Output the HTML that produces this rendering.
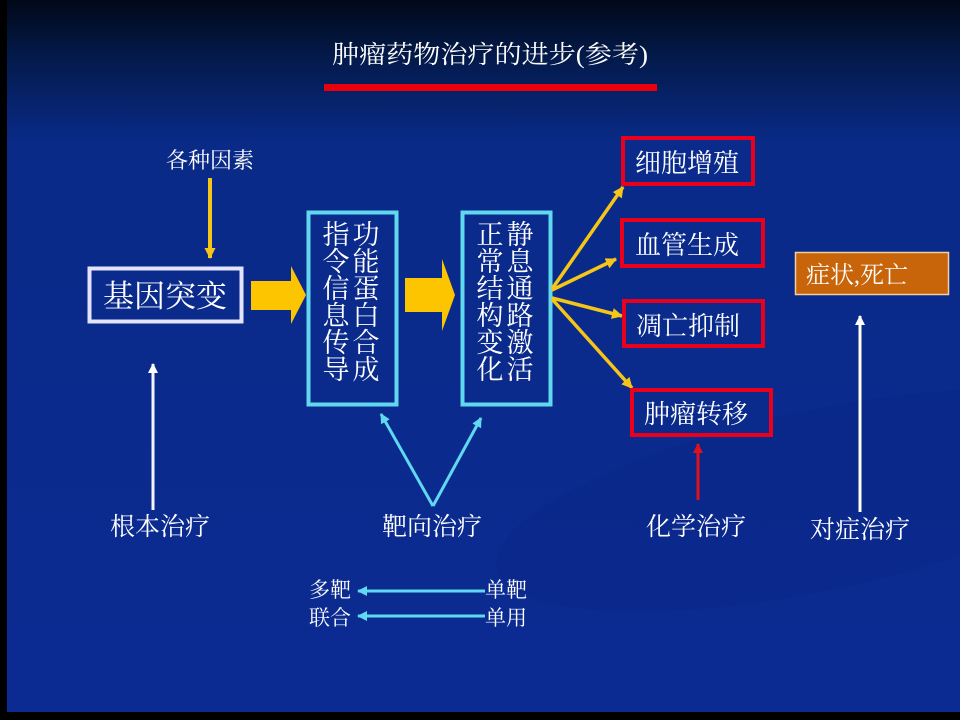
<!DOCTYPE html>
<html><head><meta charset="utf-8"><style>
html,body{margin:0;padding:0;background:#000;}
svg{display:block;}
text{font-family:"Liberation Serif","Noto Serif CJK SC",serif;fill:#fff;}
</style></head><body>
<svg width="960" height="720" viewBox="0 0 960 720" xmlns="http://www.w3.org/2000/svg">
<defs>
<linearGradient id="bg" x1="0" y1="0" x2="0" y2="1">
<stop offset="0" stop-color="#010818"/>
<stop offset="0.08" stop-color="#031a4a"/>
<stop offset="0.2" stop-color="#0a2a88"/>
<stop offset="1" stop-color="#0b2b93"/>
</linearGradient>
<marker id="ay" markerWidth="11" markerHeight="11" refX="10" refY="5.5" orient="auto" markerUnits="userSpaceOnUse"><path d="M0,0 L11,5.5 L0,11 Z" fill="#f5c518"/></marker>
<marker id="aw" markerWidth="10" markerHeight="10" refX="9" refY="5" orient="auto" markerUnits="userSpaceOnUse"><path d="M0,0 L10,5 L0,10 Z" fill="#fff"/></marker>
<marker id="ar" markerWidth="10" markerHeight="10" refX="9" refY="5" orient="auto" markerUnits="userSpaceOnUse"><path d="M0,0 L10,5 L0,10 Z" fill="#e0101c"/></marker>
<marker id="ac" markerWidth="10" markerHeight="10" refX="9" refY="5" orient="auto" markerUnits="userSpaceOnUse"><path d="M0,0 L10,5 L0,10 Z" fill="#5fd8f0"/></marker>
</defs>
<rect x="0" y="0" width="960" height="720" fill="#000"/>
<rect x="7" y="0" width="953" height="712" fill="url(#bg)"/>
<ellipse cx="820" cy="500" rx="330" ry="90" fill="#0a2580" opacity="0.25" transform="rotate(-12 820 500)"/>

<text x="490" y="63" font-size="25" text-anchor="middle" textLength="316" lengthAdjust="spacingAndGlyphs">肿瘤药物治疗的进步(参考)</text>
<rect x="324" y="84" width="333" height="7" fill="#e8000f"/>

<text x="210" y="168" font-size="22" text-anchor="middle">各种因素</text>
<line x1="210" y1="178" x2="210" y2="258" stroke="#f5c518" stroke-width="4" marker-end="url(#ay)"/>

<rect x="89.5" y="268.5" width="152" height="53" fill="#0a2a8c" stroke="#e4e4ff" stroke-width="4"/>
<text x="165" y="307" font-size="31" text-anchor="middle">基因突变</text>

<path d="M251,281 L291,281 L291,266 L306,295 L291,324 L291,310 L251,310 Z" fill="#fdc400"/>
<path d="M405,278 L442,278 L442,259 L455,295 L442,331 L442,312 L405,312 Z" fill="#fdc400"/>

<rect x="308.5" y="212.5" width="88" height="192" fill="#0a2a8c" stroke="#5fd8f0" stroke-width="4"/>
<g font-size="27" text-anchor="middle">
<text x="366" y="244">功</text><text x="366" y="271">能</text><text x="366" y="298">蛋</text><text x="366" y="325">白</text><text x="366" y="352">合</text><text x="366" y="379">成</text>
<text x="336" y="244">指</text><text x="336" y="271">令</text><text x="336" y="298">信</text><text x="336" y="325">息</text><text x="336" y="352">传</text><text x="336" y="379">导</text>
</g>
<rect x="462.5" y="212.5" width="88" height="192" fill="#0a2a8c" stroke="#5fd8f0" stroke-width="4"/>
<g font-size="27" text-anchor="middle">
<text x="520" y="244">静</text><text x="520" y="271">息</text><text x="520" y="298">通</text><text x="520" y="325">路</text><text x="520" y="352">激</text><text x="520" y="379">活</text>
<text x="490" y="244">正</text><text x="490" y="271">常</text><text x="490" y="298">结</text><text x="490" y="325">构</text><text x="490" y="352">变</text><text x="490" y="379">化</text>
</g>

<g stroke="#f5c518" stroke-width="3.5" fill="none">
<line x1="552" y1="289" x2="623" y2="187" marker-end="url(#ay)"/>
<line x1="552" y1="290" x2="616" y2="259" marker-end="url(#ay)"/>
<line x1="552" y1="298" x2="622" y2="316" marker-end="url(#ay)"/>
<line x1="552" y1="299" x2="632" y2="388" marker-end="url(#ay)"/>
</g>

<g fill="#0a2a8c" stroke="#e8001c" stroke-width="4">
<rect x="623" y="138" width="130" height="46"/>
<rect x="622" y="220" width="141" height="46"/>
<rect x="624" y="301" width="139" height="45"/>
<rect x="632" y="390" width="139" height="45"/>
</g>
<g font-size="26">
<text x="635" y="172">细胞增殖</text>
<text x="635" y="254">血管生成</text>
<text x="636" y="335">凋亡抑制</text>
<text x="644" y="423">肿瘤转移</text>
</g>

<rect x="795.5" y="252.5" width="153" height="42" fill="#c8650a" stroke="#f0d0a0" stroke-width="1.5"/>
<text x="806" y="283" font-size="24" fill="#fff">症状,死亡</text>

<line x1="860" y1="512" x2="860" y2="316" stroke="#fffff0" stroke-width="3" marker-end="url(#aw)"/>
<text x="860" y="538" font-size="25" text-anchor="middle">对症治疗</text>

<line x1="698" y1="500" x2="698" y2="444" stroke="#e0101c" stroke-width="3" marker-end="url(#ar)"/>
<text x="696" y="535" font-size="25" text-anchor="middle">化学治疗</text>

<g stroke="#5fd8f0" stroke-width="3" fill="none">
<line x1="433" y1="506" x2="381" y2="414" marker-end="url(#ac)"/>
<line x1="433" y1="506" x2="481" y2="418" marker-end="url(#ac)"/>
</g>
<text x="432" y="535" font-size="25" text-anchor="middle">靶向治疗</text>

<line x1="153" y1="510" x2="153" y2="364" stroke="#f4f4ff" stroke-width="3" marker-end="url(#aw)"/>
<text x="160" y="535" font-size="25" text-anchor="middle">根本治疗</text>

<g font-size="21">
<text x="309" y="597">多靶</text><text x="485" y="597">单靶</text>
<text x="309" y="625">联合</text><text x="485" y="625">单用</text>
</g>
<g stroke="#5fd8f0" stroke-width="3">
<line x1="485" y1="591" x2="358" y2="591" marker-end="url(#ac)"/>
<line x1="485" y1="616" x2="358" y2="616" marker-end="url(#ac)"/>
</g>
</svg>
</body></html>
